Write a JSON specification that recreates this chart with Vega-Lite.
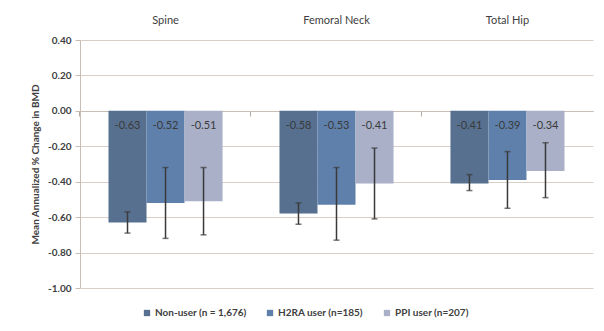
{
  "$schema": "https://vega.github.io/schema/vega-lite/v6.json",
  "width": 513,
  "height": 248,
  "autosize": {"type": "none"},
  "padding": {"left": 80, "top": 40, "right": 11, "bottom": 43},
  "background": "white",
  "config": {
    "font": "Lato",
    "locale": {"number": {"decimal": ".", "thousands": ",", "grouping": [3], "currency": ["$", ""], "minus": "-"}},
    "view": {"stroke": null},
    "axis": {"labelColor": "#404040", "titleColor": "#404040"},
    "axisY": {
      "values": [0.4, 0.2, 0, -0.2, -0.4, -0.6, -0.8, -1],
      "labelOverlap": false,
      "format": ".2f",
      "labelFontSize": 10, "labelFontWeight": "bold", "labelPadding": 4,
      "grid": true, "gridColor": "#d9cfc8", "gridWidth": 1,
      "domainColor": "#c9bdb4", "tickColor": "#c9bdb4", "tickSize": 5,
      "titleFontSize": 10, "titleFontWeight": "bold", "titlePadding": 7
    }
  },
  "data": {
    "values": [
      {"site": "Spine", "group": "Non-user (n = 1,676)", "value": -0.63, "lo": -0.69, "hi": -0.57},
      {"site": "Spine", "group": "H2RA user (n=185)", "value": -0.52, "lo": -0.72, "hi": -0.32},
      {"site": "Spine", "group": "PPI user (n=207)", "value": -0.51, "lo": -0.70, "hi": -0.32},
      {"site": "Femoral Neck", "group": "Non-user (n = 1,676)", "value": -0.58, "lo": -0.64, "hi": -0.52},
      {"site": "Femoral Neck", "group": "H2RA user (n=185)", "value": -0.53, "lo": -0.73, "hi": -0.32},
      {"site": "Femoral Neck", "group": "PPI user (n=207)", "value": -0.41, "lo": -0.61, "hi": -0.21},
      {"site": "Total Hip", "group": "Non-user (n = 1,676)", "value": -0.41, "lo": -0.45, "hi": -0.36},
      {"site": "Total Hip", "group": "H2RA user (n=185)", "value": -0.39, "lo": -0.55, "hi": -0.23},
      {"site": "Total Hip", "group": "PPI user (n=207)", "value": -0.34, "lo": -0.49, "hi": -0.18}
    ]
  },
  "resolve": {"axis": {"x": "independent"}},
  "layer": [
    {
      "mark": {"type": "bar"},
      "encoding": {
        "x": {
          "field": "site", "type": "nominal",
          "sort": ["Spine", "Femoral Neck", "Total Hip"],
          "scale": {"paddingInner": 0.333, "paddingOuter": 0.1667},
          "axis": {"orient": "top", "title": null, "domain": false, "ticks": false, "tickSize": 0, "labelPadding": 15, "labelFontSize": 11, "labelAngle": 0, "grid": false}
        },
        "xOffset": {
          "field": "group", "type": "nominal",
          "sort": ["Non-user (n = 1,676)", "H2RA user (n=185)", "PPI user (n=207)"],
          "scale": {"paddingInner": 0, "paddingOuter": 0}
        },
        "y": {
          "field": "value", "type": "quantitative",
          "scale": {"domain": [-1, 0.4], "nice": false, "zero": false},
          "title": "Mean Annualized % Change in BMD"
        },
        "y2": {"datum": 0},
        "color": {
          "field": "group", "type": "nominal",
          "sort": ["Non-user (n = 1,676)", "H2RA user (n=185)", "PPI user (n=207)"],
          "scale": {"range": ["#57708f", "#5f80aa", "#a9b0c7"]},
          "legend": {
            "orient": "none", "legendX": 62, "legendY": 268,
            "direction": "horizontal", "title": null,
            "symbolType": "square", "symbolSize": 40, "symbolStrokeWidth": 0,
            "labelFontSize": 10, "labelFontWeight": "bold", "labelColor": "#404040",
            "columnPadding": 18, "labelOffset": 3
          }
        }
      }
    },
    {
      "mark": {"type": "rule", "color": "#c9bdb4", "strokeWidth": 1},
      "encoding": {
        "x": {
          "field": "site", "type": "nominal",
          "sort": ["Spine", "Femoral Neck", "Total Hip"],
          "axis": {"orient": "bottom", "offset": -177, "title": null, "labels": false, "domain": true, "domainColor": "#c9bdb4", "ticks": true, "tickColor": "#b5a99f", "tickSize": 5, "bandPosition": -0.25, "grid": false, "zindex": 0}
        },
        "y": {"datum": 0, "title": "Mean Annualized % Change in BMD"}
      }
    },
    {
      "mark": {"type": "rule", "color": "#3a3a3a", "strokeWidth": 1.5},
      "encoding": {
        "x": {"field": "site", "type": "nominal", "sort": ["Spine", "Femoral Neck", "Total Hip"], "axis": null},
        "xOffset": {"field": "group", "type": "nominal", "sort": ["Non-user (n = 1,676)", "H2RA user (n=185)", "PPI user (n=207)"]},
        "y": {"field": "lo", "type": "quantitative", "title": "Mean Annualized % Change in BMD"},
        "y2": {"field": "hi"}
      }
    },
    {
      "mark": {"type": "tick", "color": "#3a3a3a", "size": 6, "thickness": 1.5, "orient": "horizontal"},
      "encoding": {
        "x": {"field": "site", "type": "nominal", "sort": ["Spine", "Femoral Neck", "Total Hip"], "axis": null},
        "xOffset": {"field": "group", "type": "nominal", "sort": ["Non-user (n = 1,676)", "H2RA user (n=185)", "PPI user (n=207)"]},
        "y": {"field": "lo", "type": "quantitative", "title": "Mean Annualized % Change in BMD"}
      }
    },
    {
      "mark": {"type": "tick", "color": "#3a3a3a", "size": 6, "thickness": 1.5, "orient": "horizontal"},
      "encoding": {
        "x": {"field": "site", "type": "nominal", "sort": ["Spine", "Femoral Neck", "Total Hip"], "axis": null},
        "xOffset": {"field": "group", "type": "nominal", "sort": ["Non-user (n = 1,676)", "H2RA user (n=185)", "PPI user (n=207)"]},
        "y": {"field": "hi", "type": "quantitative", "title": "Mean Annualized % Change in BMD"}
      }
    },
    {
      "mark": {"type": "text", "fontSize": 11, "color": "#3a3a3a", "baseline": "middle", "dy": 15},
      "encoding": {
        "x": {"field": "site", "type": "nominal", "sort": ["Spine", "Femoral Neck", "Total Hip"], "axis": null},
        "xOffset": {"field": "group", "type": "nominal", "sort": ["Non-user (n = 1,676)", "H2RA user (n=185)", "PPI user (n=207)"]},
        "y": {"datum": 0, "title": "Mean Annualized % Change in BMD"},
        "text": {"field": "value", "type": "quantitative", "format": ".2f"}
      }
    }
  ]
}
